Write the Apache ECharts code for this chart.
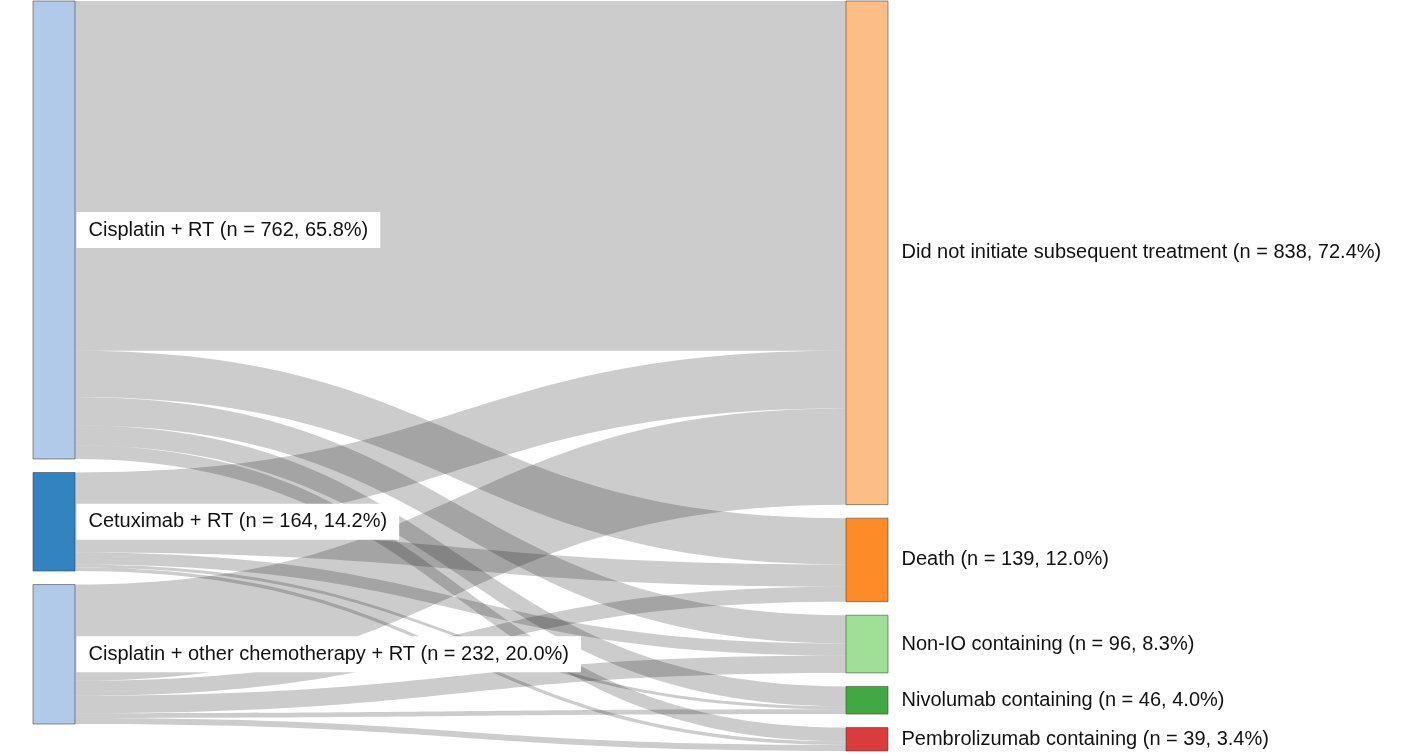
<!DOCTYPE html>
<html style="height: 100%">
   <head>
       <meta charset="utf-8">
   </head>
   <body style="height: 100%; margin: 0; background: #fff">
       <div id="container" style="height: 100%"></div>
       <script type="text/javascript" src="https://cdn.jsdelivr.net/npm/echarts@6/dist/echarts.min.js"></script>
       <script type="text/javascript">
// first line treatment -> subsequent outcome
var sources = ['Cisplatin + RT', 'Cetuximab + RT', 'Cisplatin + other chemotherapy + RT'];
var sourceLabels = ['Cisplatin + RT (n = 762, 65.8%)', 'Cetuximab + RT (n = 164, 14.2%)', 'Cisplatin + other chemotherapy + RT (n = 232, 20.0%)'];
var sourceColors = ['#b1caea', '#3383c0', '#b1caea'];

var targets = ['Did not initiate subsequent treatment', 'Death', 'Non-IO containing', 'Nivolumab containing', 'Pembrolizumab containing'];
var targetLabels = ['Did not initiate subsequent treatment (n = 838, 72.4%)', 'Death (n = 139, 12.0%)', 'Non-IO containing (n = 96, 8.3%)', 'Nivolumab containing (n = 46, 4.0%)', 'Pembrolizumab containing (n = 39, 3.4%)'];
var targetColors = ['#fdbe85', '#fd8c28', '#a0e096', '#41a843', '#d93c3c'];

// rows = sources, columns = targets (estimated)
var flowCisplatin = [582, 77, 47, 33, 23];
var flowCetuximab = [96, 37, 20, 5, 6];
var flowOther = [160, 25, 29, 8, 10];
var flows = [flowCisplatin, flowCetuximab, flowOther];

var dom = document.getElementById("container");
var myChart = echarts.init(dom);

var nodes = [];
sources.forEach(function (name, i) {
    nodes.push({
        name: name,
        itemStyle: {color: sourceColors[i]},
        label: {formatter: sourceLabels[i]}
    });
});
targets.forEach(function (name, i) {
    nodes.push({
        name: name,
        itemStyle: {color: targetColors[i]},
        label: {formatter: targetLabels[i]}
    });
});

var links = [];
flows.forEach(function (row, i) {
    row.forEach(function (v, j) {
        links.push({source: sources[i], target: targets[j], value: v});
    });
});

var option = {
    animation: false,
    series: [{
        type: 'sankey',
        left: 33,
        right: 535,
        top: 1,
        bottom: 4,
        nodeWidth: 42,
        nodeGap: 13.5,
        layoutIterations: 0,   // keep node order as given
        draggable: false,
        emphasis: {disabled: true},
        data: nodes,
        links: links,
        itemStyle: {
            borderColor: 'rgba(60,60,60,0.55)',
            borderWidth: 1
        },
        lineStyle: {
            color: '#000',
            opacity: 0.2,
            curveness: 0.5
        },
        label: {
            position: 'right',
            distance: 1,
            color: '#111',
            fontFamily: 'Liberation Sans, Arial, sans-serif',
            fontSize: 20,
            backgroundColor: '#fff',
            padding: [8, 12]
        }
    }]
};
myChart.setOption(option, true);
       </script>
   </body>
</html>
